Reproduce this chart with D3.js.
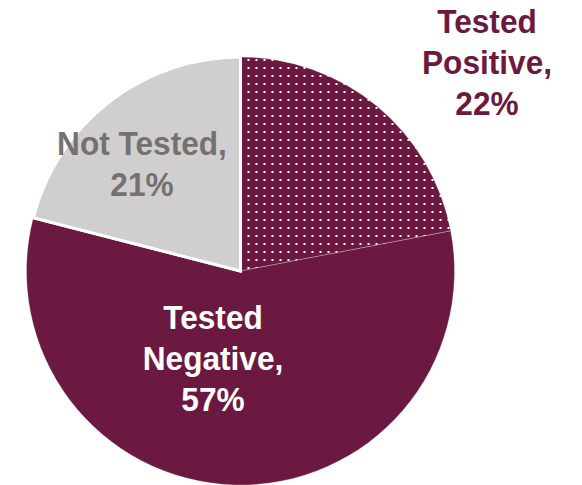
<!DOCTYPE html>
<html><head><meta charset="utf-8">
<script src="https://cdn.jsdelivr.net/npm/d3@7"></script>
<style>html,body{margin:0;padding:0;background:#fff;}svg{display:block;}</style>
</head><body>
<script>
const categories = ["Tested Positive", "Tested Negative", "Not Tested"];
const values = [22, 57, 21];
const labelLines = [["Tested", "Positive,", "22%"], ["Tested", "Negative,", "57%"], ["Not Tested,", "21%"]];

const W = 582, H = 485;
const cx = 240.5, cy = 271, R = 214;
const maroon = "#6b1941";

const svg = d3.select("body").append("svg").attr("width", W).attr("height", H);
const defs = svg.append("defs");
const pat = defs.append("pattern").attr("id", "dots").attr("patternUnits", "userSpaceOnUse")
  .attr("x", 0).attr("y", 4).attr("width", 8).attr("height", 8);
pat.append("rect").attr("width", 8).attr("height", 8).attr("fill", maroon);
pat.append("rect").attr("x", 7).attr("y", 0).attr("width", 2).attr("height", 2).attr("fill", "#fff");
pat.append("rect").attr("x", -1).attr("y", 0).attr("width", 2).attr("height", 2).attr("fill", "#fff");

const fills = ["url(#dots)", maroon, "#d0cecf"];
const textColors = [maroon, "#ffffff", "#767171"];

const pie = d3.pie().sort(null).value(d => d)(values);
const arc = d3.arc().innerRadius(0).outerRadius(R);

const g = svg.append("g").attr("transform", `translate(${cx},${cy})`);
g.selectAll("path").data(pie).join("path")
  .attr("d", arc)
  .attr("fill", (d, i) => fills[i])
  .attr("stroke", (d, i) => i === 2 ? "#fff" : "rgba(255,255,255,0.25)")
  .attr("stroke-width", (d, i) => i === 2 ? 3 : 1)
  .attr("stroke-linejoin", "round");
g.append("path").attr("d", arc(pie[2])).attr("fill", fills[2]).attr("stroke", "#fff").attr("stroke-width", 3);

const labelPos = [[487, 32.7], [213, 329], [142, 155]];
const lh = 41;
labelLines.forEach((lines, i) => {
  const t = svg.append("g")
    .attr("transform", `translate(${labelPos[i][0]},${labelPos[i][1]}) scale(0.93,1)`)
    .append("text")
    .attr("text-anchor", "middle")
    .attr("fill", textColors[i])
    .attr("font-family", "'Liberation Sans', Arial, sans-serif")
    .attr("font-weight", "bold")
    .attr("font-size", 34);
  lines.forEach((l, j) => {
    t.append("tspan").attr("x", 0).attr("y", j * lh).text(l);
  });
});
</script>
</body></html>
